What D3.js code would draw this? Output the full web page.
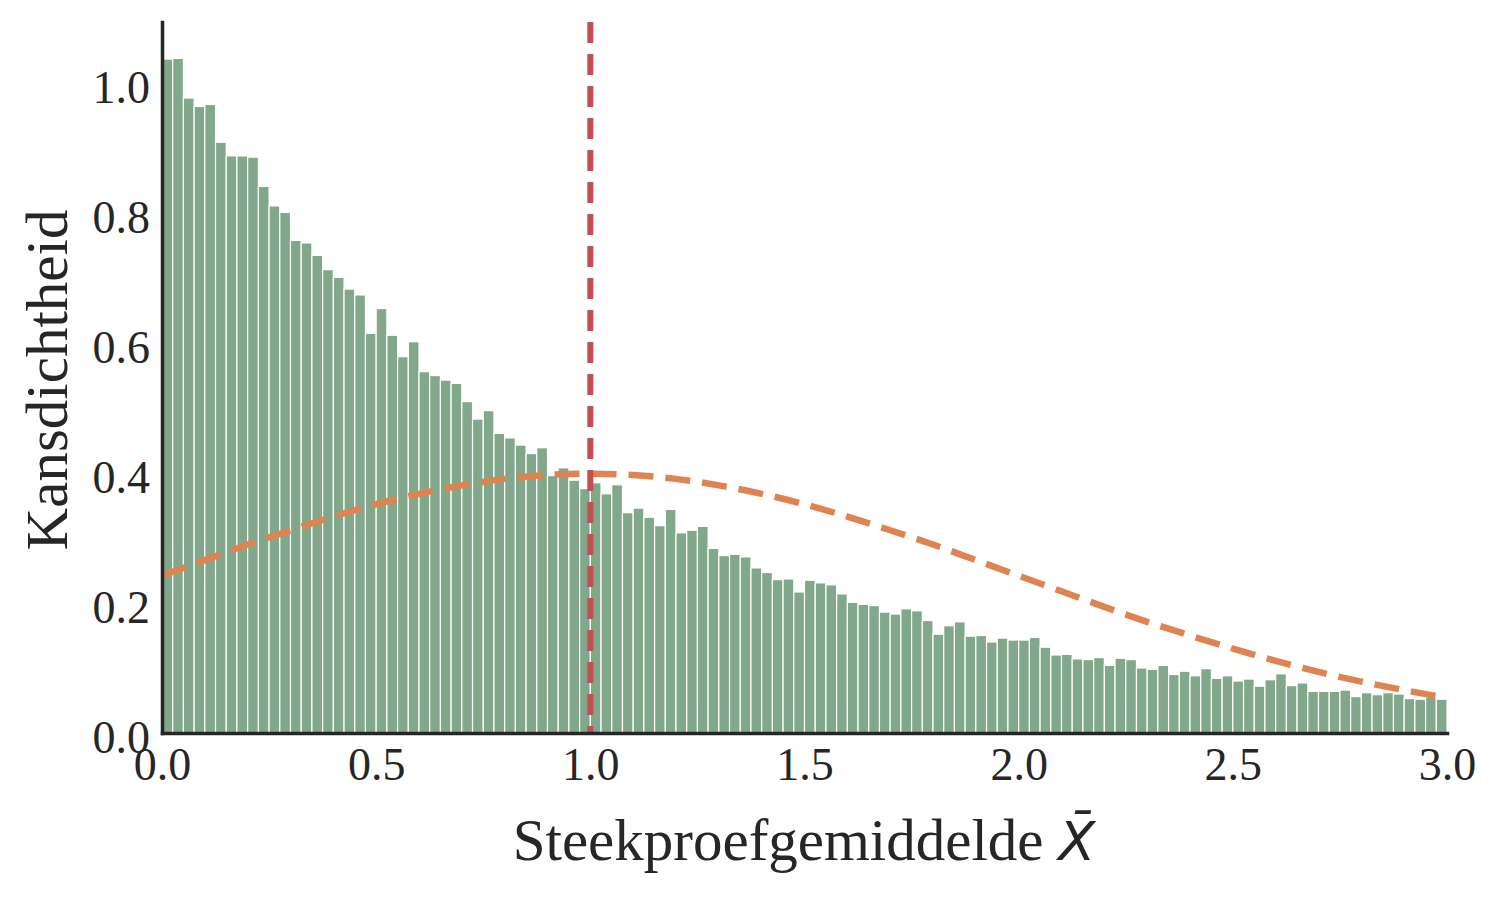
<!DOCTYPE html>
<html>
<head>
<meta charset="utf-8">
<script src="https://cdn.jsdelivr.net/npm/d3@7"></script>
<style>
    body { margin: 0; background: #ffffff; }
    svg { display: block; }
</style>
</head>
<body>
<div id="chart"></div>
<script>
// histogram of sample means, bins of 0.025 from 0 to 3
const binWidth = 0.025;
const density = [
    1.037, 1.038, 0.977, 0.964, 0.967, 0.909, 0.888, 0.888, 0.886, 0.841,
    0.811, 0.801, 0.758, 0.754, 0.735, 0.713, 0.701, 0.683, 0.674, 0.615,
    0.653, 0.612, 0.579, 0.602, 0.556, 0.550, 0.543, 0.538, 0.510, 0.483,
    0.496, 0.461, 0.454, 0.443, 0.430, 0.439, 0.396, 0.408, 0.389, 0.376,
    0.385, 0.368, 0.382, 0.339, 0.346, 0.332, 0.319, 0.344, 0.308, 0.312,
    0.318, 0.284, 0.273, 0.275, 0.271, 0.254, 0.247, 0.236, 0.237, 0.217,
    0.235, 0.231, 0.228, 0.214, 0.201, 0.198, 0.196, 0.186, 0.183, 0.191,
    0.188, 0.173, 0.152, 0.165, 0.171, 0.149, 0.150, 0.140, 0.146, 0.143,
    0.143, 0.147, 0.132, 0.120, 0.121, 0.114, 0.113, 0.116, 0.104, 0.115,
    0.113, 0.100, 0.098, 0.104, 0.090, 0.095, 0.088, 0.099, 0.084, 0.088,
    0.080, 0.083, 0.072, 0.082, 0.091, 0.073, 0.077, 0.064, 0.064, 0.064,
    0.066, 0.056, 0.062, 0.059, 0.062, 0.060, 0.053, 0.052, 0.055, 0.052
];

// orange reference curve, read at x = 0.0, 0.1, ..., 3.0
const curveX = [
    0.0, 0.1, 0.2, 0.3, 0.4, 0.5, 0.6, 0.7, 0.8, 0.9, 1.0,
    1.1, 1.2, 1.3, 1.4, 1.5, 1.6, 1.7, 1.8, 1.9, 2.0,
    2.1, 2.2, 2.3, 2.4, 2.5, 2.6, 2.7, 2.8, 2.9, 3.0
];
const curveY = [
    0.242, 0.266, 0.290, 0.312, 0.333, 0.352, 0.368, 0.381, 0.391, 0.397, 0.399,
    0.397, 0.391, 0.381, 0.368, 0.352, 0.333, 0.312, 0.290, 0.266, 0.242,
    0.218, 0.194, 0.171, 0.150, 0.130, 0.111, 0.094, 0.079, 0.066, 0.054
];

const meanLine = 1.0;
const xTicks = [0, 0.5, 1.0, 1.5, 2.0, 2.5, 3.0];
const yTicks = [0, 0.2, 0.4, 0.6, 0.8, 1.0];

const width = 1500, height = 899;
const serif = "'Palatino Linotype', Palatino, 'Book Antiqua', 'Liberation Serif', serif";

const svg = d3.select("#chart")
    .append("svg")
    .attr("width", width)
    .attr("height", height);

const x = d3.scaleLinear().domain([0, 3]).range([162, 1447]);
const y = d3.scaleLinear().domain([0, 1.094]).range([733, 22]);

// bars
svg.append("g")
    .selectAll("rect")
    .data(density)
    .enter().append("rect")
    .attr("x", (d, i) => x(i * binWidth))
    .attr("width", x(binWidth) - x(0))
    .attr("y", d => y(d))
    .attr("height", d => y(0) - y(d))
    .attr("fill", "#82a88b")
    .attr("stroke", "#ffffff")
    .attr("stroke-width", 1.2);

// orange dashed curve
const line = d3.line()
    .x((d, i) => x(curveX[i]))
    .y(d => y(d))
    .curve(d3.curveMonotoneX);

svg.append("path")
    .datum(curveY)
    .attr("d", line)
    .attr("fill", "none")
    .attr("stroke", "#dd8452")
    .attr("stroke-width", 6.5)
    .attr("stroke-dasharray", "25,12");

// red dashed line at the mean
svg.append("line")
    .attr("x1", x(meanLine))
    .attr("x2", x(meanLine))
    .attr("y1", y.range()[1])
    .attr("y2", y(0))
    .attr("stroke", "#c44e52")
    .attr("stroke-width", 6)
    .attr("stroke-dasharray", "21,11");

// axes
const fmt = d3.format(".1f");

const yAxis = svg.append("g")
    .attr("transform", `translate(${x(0)},0)`)
    .call(d3.axisLeft(y).tickValues(yTicks).tickFormat(fmt).tickSize(0).tickPadding(12));

const xAxis = svg.append("g")
    .attr("transform", `translate(0,${y(0)})`)
    .call(d3.axisBottom(x).tickValues(xTicks).tickFormat(fmt).tickSize(0).tickPadding(14));

[yAxis, xAxis].forEach(g => {
    g.select(".domain")
        .attr("stroke", "#262626")
        .attr("stroke-width", 3.5)
        .attr("stroke-linecap", "square");
    g.selectAll("text")
        .attr("fill", "#262626")
        .style("font-family", serif)
        .style("font-size", "46px");
});
yAxis.selectAll("text").attr("dy", "0.43em");

// axis labels
svg.append("text")
    .attr("x", 804)
    .attr("y", 860)
    .attr("text-anchor", "middle")
    .attr("fill", "#262626")
    .style("font-family", serif)
    .style("font-size", "59px")
    .text("Steekproefgemiddelde ")
    .append("tspan")
    .style("font-family", "'DejaVu Sans', sans-serif")
    .style("font-style", "italic")
    .style("font-size", "54px")
    .text("X\u0304");

svg.append("text")
    .attr("transform", "translate(67,380) rotate(-90)")
    .attr("text-anchor", "middle")
    .attr("fill", "#262626")
    .style("font-family", serif)
    .style("font-size", "59px")
    .text("Kansdichtheid");
</script>
</body>
</html>
